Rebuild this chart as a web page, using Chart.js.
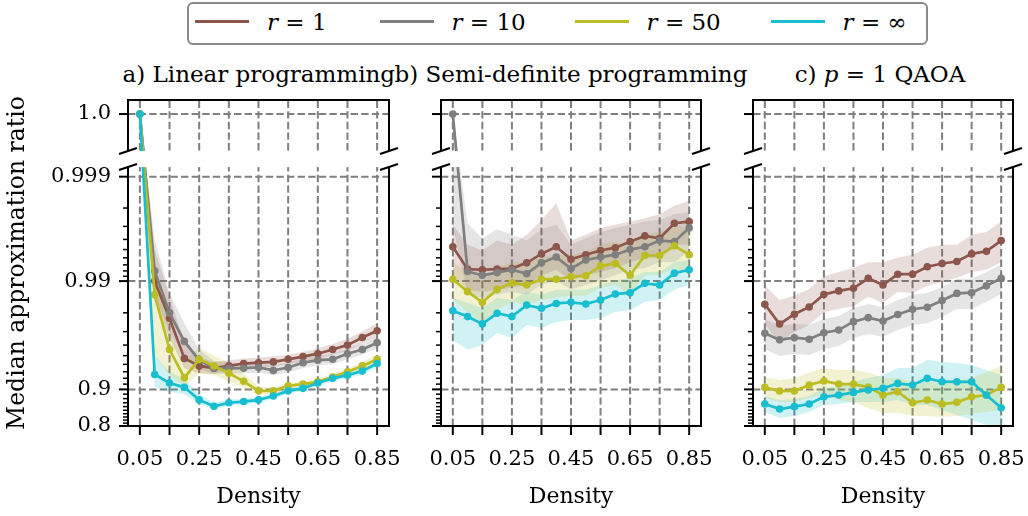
<!DOCTYPE html>
<html><head><meta charset="utf-8">
<script src="https://cdn.jsdelivr.net/npm/chart.js@4.4.1/dist/chart.umd.min.js"></script>
<style>
html,body{margin:0;padding:0;background:#fff;}
body{width:1028px;height:516px;position:relative;overflow:hidden;font-family:'DejaVu Serif','Liberation Serif',serif;color:#000;}
canvas{position:absolute;top:60px;}
.t{position:absolute;width:400px;text-align:center;font-size:23px;line-height:26px;top:61px;white-space:nowrap;}
#lg{position:absolute;left:187px;top:2px;width:741px;height:43px;box-sizing:border-box;border:2px solid #8a8a8a;border-radius:6px;}
.ll{position:absolute;height:3px;top:20px;width:54px;}
.lt{position:absolute;font-size:23px;line-height:26px;top:9px;white-space:nowrap;}
</style></head>
<body>
<div id="lg"></div>
<div class="t" style="left:58.8px">a) Linear programming</div>
<div class="t" style="left:371px">b) Semi-definite programming</div>
<div class="t" style="left:680px">c) <i>p</i> = 1 QAOA</div>
<canvas id="ca" width="410" height="456" style="left:0px"></canvas>
<canvas id="cb" width="310" height="456" style="left:410px"></canvas>
<canvas id="cc" width="308" height="456" style="left:720px"></canvas>
<script>
// ---------------- data ----------------
const DENSITY = [0.05,0.10,0.15,0.20,0.25,0.30,0.35,0.40,0.45,0.50,0.55,0.60,0.65,0.70,0.75,0.80,0.85];
const X_TICKS = [0.05,0.15,0.25,0.35,0.45,0.55,0.65,0.75,0.85];
const X_TICK_LABELS = ['0.05','','0.25','','0.45','','0.65','','0.85'];
const Y_TICKS = [0.8,0.9,0.99,0.999,1.0];
const Y_TICK_LABELS = ['0.8','0.9','0.99','0.999','1.0'];
const Y_MINOR = [0.81,0.82,0.83,0.84,0.85,0.86,0.87,0.88,0.89,0.91,0.92,0.93,0.94,0.95,0.96,0.97,0.98,0.991,0.992,0.993,0.994,0.995,0.996,0.997,0.998];
const SERIES_HTML = ['<i>r</i> = 1','<i>r</i> = 10','<i>r</i> = 50','<i>r</i> = ∞'];
const COLORS = ['#8c564b','#7f7f7f','#bcbd22','#17becf'];

// a) Linear programming
const LP_R1   = [1.0,0.990,0.9775,0.947,0.938,0.935,0.938,0.941,0.942,0.943,0.946,0.949,0.952,0.956,0.960,0.966,0.9706];
const LP_R10  = [1.0,0.992,0.980,0.963,0.945,0.935,0.935,0.935,0.936,0.932,0.936,0.942,0.945,0.946,0.952,0.956,0.962];
const LP_R50  = [1.0,0.9865,0.956,0.921,0.946,0.938,0.928,0.915,0.897,0.897,0.907,0.910,0.914,0.922,0.930,0.938,0.946];
const LP_RINF = [1.0,0.926,0.912,0.904,0.877,0.861,0.870,0.873,0.877,0.886,0.897,0.902,0.912,0.920,0.925,0.931,0.941];
const LP_R1_LO   = [1.0,0.984,0.965,0.935,0.928,0.927,0.931,0.935,0.936,0.937,0.940,0.943,0.946,0.951,0.955,0.961,0.966];
const LP_R1_HI   = [1.0,0.995,0.986,0.962,0.948,0.943,0.945,0.947,0.948,0.949,0.951,0.954,0.957,0.961,0.965,0.970,0.975];
const LP_R10_LO  = [1.0,0.986,0.970,0.950,0.934,0.927,0.927,0.928,0.929,0.925,0.929,0.935,0.939,0.940,0.946,0.951,0.957];
const LP_R10_HI  = [1.0,0.996,0.987,0.975,0.956,0.944,0.942,0.942,0.942,0.939,0.942,0.948,0.950,0.952,0.957,0.961,0.966];
const LP_R50_LO  = [1.0,0.950,0.925,0.905,0.928,0.925,0.915,0.903,0.890,0.891,0.901,0.905,0.909,0.917,0.925,0.933,0.941];
const LP_R50_HI  = [1.0,0.993,0.972,0.945,0.958,0.950,0.942,0.928,0.906,0.903,0.912,0.915,0.919,0.927,0.935,0.943,0.951];
const LP_RINF_LO = [1.0,0.905,0.895,0.890,0.866,0.853,0.862,0.866,0.870,0.880,0.891,0.897,0.907,0.915,0.920,0.926,0.936];
const LP_RINF_HI = [1.0,0.950,0.930,0.918,0.890,0.870,0.878,0.880,0.884,0.892,0.903,0.908,0.917,0.925,0.930,0.936,0.946];

// b) Semi-definite programming
const SDP_R1   = [0.9953,0.9923,0.9922,0.9923,0.9924,0.9933,0.9945,0.9953,0.9938,0.9944,0.9949,0.9952,0.9958,0.9963,0.9961,0.9972,0.9973];
const SDP_R10  = [1.0,0.9919,0.9912,0.9917,0.9922,0.9915,0.9933,0.9941,0.9924,0.9937,0.9941,0.9944,0.9950,0.9953,0.9959,0.9958,0.9969];
const SDP_R50  = [0.9904,0.9874,0.9841,0.9880,0.9896,0.9891,0.9904,0.9904,0.9909,0.9911,0.9928,0.9932,0.9912,0.9943,0.9943,0.9954,0.9944];
const SDP_RINF = [0.9809,0.9783,0.9746,0.9798,0.9783,0.9831,0.9819,0.9837,0.9841,0.9835,0.9849,0.9867,0.9871,0.9895,0.9891,0.9916,0.9922];
const SDP_R1_LO   = [0.9912,0.9879,0.9873,0.9879,0.9884,0.9891,0.9912,0.9922,0.9902,0.9912,0.9918,0.9925,0.9934,0.9940,0.9940,0.9955,0.9955];
const SDP_R1_HI   = [0.9971,0.9955,0.9949,0.9959,0.9955,0.9964,0.9974,0.9982,0.9959,0.9964,0.9969,0.9971,0.9973,0.9975,0.9977,0.9981,0.9983];
const SDP_R10_LO  = [0.9970,0.9865,0.9856,0.9865,0.9873,0.9865,0.9891,0.9902,0.9879,0.9891,0.9902,0.9912,0.9922,0.9925,0.9934,0.9934,0.9949];
const SDP_R10_HI  = [1.0,0.9972,0.9961,0.9968,0.9964,0.9959,0.9968,0.9971,0.9955,0.9961,0.9966,0.9969,0.9971,0.9973,0.9974,0.9977,0.9978];
const SDP_R50_LO  = [0.9849,0.9804,0.9756,0.9812,0.9842,0.9831,0.9849,0.9856,0.9862,0.9862,0.9884,0.9891,0.9865,0.9912,0.9912,0.9925,0.9912];
const SDP_R50_HI  = [0.9934,0.9918,0.9902,0.9925,0.9934,0.9934,0.9940,0.9944,0.9944,0.9947,0.9955,0.9958,0.9952,0.9964,0.9966,0.9971,0.9968];
const SDP_RINF_LO = [0.9642,0.9556,0.9600,0.9691,0.9656,0.9740,0.9722,0.9756,0.9766,0.9766,0.9776,0.9804,0.9812,0.9842,0.9849,0.9879,0.9891];
const SDP_RINF_HI = [0.9856,0.9839,0.9820,0.9856,0.9849,0.9873,0.9865,0.9879,0.9879,0.9879,0.9891,0.9902,0.9907,0.9918,0.9918,0.9934,0.9937];

// c) p = 1 QAOA
const QAOA_R1   = [0.9834,0.9745,0.9794,0.9824,0.9866,0.9876,0.9883,0.9906,0.9891,0.9914,0.9914,0.9927,0.9932,0.9935,0.9945,0.9948,0.9959];
const QAOA_R10  = [0.9689,0.9642,0.9658,0.9647,0.9693,0.9710,0.9758,0.9778,0.9761,0.9793,0.9815,0.9823,0.9847,0.9869,0.9871,0.9889,0.9906];
const QAOA_R50  = [0.9039,0.8966,0.8968,0.9083,0.9156,0.9101,0.9101,0.9044,0.8881,0.8953,0.8700,0.8767,0.8668,0.8710,0.8842,0.8881,0.9039];
const QAOA_RINF = [0.8668,0.8535,0.8600,0.8668,0.8842,0.8881,0.8938,0.8987,0.9020,0.9113,0.9083,0.9199,0.9143,0.9140,0.9140,0.8880,0.8570];
const QAOA_R1_LO   = [0.9740,0.9626,0.9698,0.9740,0.9804,0.9816,0.9827,0.9859,0.9839,0.9873,0.9870,0.9889,0.9898,0.9907,0.9918,0.9922,0.9934];
const QAOA_R1_HI   = [0.9890,0.9849,0.9862,0.9881,0.9910,0.9918,0.9925,0.9934,0.9934,0.9940,0.9944,0.9952,0.9955,0.9955,0.9964,0.9966,0.9973];
const QAOA_R10_LO  = [0.9564,0.9497,0.9517,0.9507,0.9564,0.9592,0.9656,0.9684,0.9663,0.9710,0.9740,0.9750,0.9781,0.9816,0.9816,0.9842,0.9867];
const QAOA_R10_HI  = [0.9771,0.9734,0.9745,0.9740,0.9771,0.9786,0.9820,0.9835,0.9823,0.9849,0.9865,0.9870,0.9886,0.9905,0.9905,0.9918,0.9931];
const QAOA_R50_LO  = [0.8813,0.8720,0.8720,0.8813,0.8903,0.8767,0.8720,0.8563,0.8421,0.8421,0.8332,0.8332,0.8302,0.8332,0.8393,0.8450,0.8508];
const QAOA_R50_HI  = [0.9221,0.9172,0.9204,0.9295,0.9352,0.9324,0.9324,0.9295,0.9204,0.9204,0.9137,0.9137,0.9119,0.9172,0.9204,0.9295,0.9379];
const QAOA_RINF_LO = [0.8450,0.8270,0.8332,0.8450,0.8643,0.8668,0.8720,0.8720,0.8720,0.8767,0.8643,0.8643,0.8508,0.8363,0.8205,0.8035,0.8000];
const QAOA_RINF_HI = [0.8859,0.8767,0.8790,0.8859,0.9028,0.9066,0.9137,0.9204,0.9252,0.9352,0.9352,0.9454,0.9430,0.9418,0.9392,0.9324,0.9252];

// ---------------- axis transform (logit with a broken top section) ----------------
const Y_MIN_T = Math.log10(0.8 / 0.2);
const Y_MAX_T = 3.737;
const ONE_T = 3.602;        // where the value 1.0 sits (upper broken section)
const GAP_LO_T = 3.092, GAP_HI_T = 3.246;
const T = v => v >= 1 ? ONE_T : Math.log10(v / (1 - v));

function rgba(hex, a) {
  const n = parseInt(hex.slice(1), 16);
  return `rgba(${(n >> 16) & 255},${(n >> 8) & 255},${n & 255},${a})`;
}

// legend
const LEG_X = [195, 379.5, 574.6, 770.6];
SERIES_HTML.forEach((h, i) => {
  const l = document.createElement('div'); l.className = 'll';
  l.style.left = LEG_X[i] + 'px'; l.style.background = COLORS[i];
  document.body.appendChild(l);
  const t = document.createElement('div'); t.className = 'lt';
  t.style.left = (LEG_X[i] + 72) + 'px'; t.innerHTML = h;
  document.body.appendChild(t);
});

Chart.defaults.font.family = "'DejaVu Serif', 'Liberation Serif', serif";
Chart.defaults.font.size = 22;
Chart.defaults.color = '#000';

const decor = {
  id: 'decor',
  beforeDatasetsDraw(chart) {
    const {ctx, chartArea: a, scales: {x, y}} = chart;
    ctx.save();
    ctx.beginPath(); ctx.rect(a.left, a.top, a.right - a.left, a.bottom - a.top); ctx.clip();
    ctx.strokeStyle = '#7f7f7f'; ctx.lineWidth = 2; ctx.setLineDash([7.4, 3.2]);
    X_TICKS.forEach(v => { const p = x.getPixelForValue(v); ctx.beginPath(); ctx.moveTo(p, a.bottom); ctx.lineTo(p, a.top); ctx.stroke(); });
    Y_TICKS.forEach(v => { const p = y.getPixelForValue(T(v)); ctx.beginPath(); ctx.moveTo(a.left, p); ctx.lineTo(a.right, p); ctx.stroke(); });
    ctx.restore();
  },
  afterDatasetsDraw(chart) {
    const {ctx, chartArea: a, scales: {x, y}} = chart;
    const gTop = y.getPixelForValue(GAP_HI_T), gBot = y.getPixelForValue(GAP_LO_T);
    ctx.save();
    ctx.fillStyle = '#fff';
    ctx.fillRect(a.left - 4, gTop, a.right - a.left + 8, gBot - gTop);
    ctx.strokeStyle = '#000'; ctx.setLineDash([]);
    const seg = (x1, y1, x2, y2, w) => { ctx.lineWidth = w; ctx.beginPath(); ctx.moveTo(x1, y1); ctx.lineTo(x2, y2); ctx.stroke(); };
    seg(a.left - 1, a.top, a.right + 1, a.top, 2);
    seg(a.left - 1, a.bottom, a.right + 1, a.bottom, 2);
    [a.left, a.right].forEach(px => { seg(px, a.top, px, gTop, 2); seg(px, gBot, px, a.bottom, 2); });
    X_TICKS.forEach(v => { const p = x.getPixelForValue(v); seg(p, a.bottom, p, a.bottom + 9, 2); });
    Y_TICKS.forEach(v => { const p = y.getPixelForValue(T(v)); seg(a.left - 9, p, a.left, p, 2); });
    Y_MINOR.forEach(v => { const p = y.getPixelForValue(T(v)); seg(a.left - 5, p, a.left, p, 1.5); });
    [a.left, a.right].forEach(cx => [gTop, gBot].forEach(cy => seg(cx - 9, cy + 3, cx + 9, cy - 3, 2)));
    ctx.restore();
  }
};

function makeChart(id, med, lo, hi, yWidth, padRight, showY) {
  const datasets = [];
  for (let i = 0; i < 4; i++) {
    datasets.push({data: DENSITY.map((d, j) => ({x: d, y: T(hi[i][j])})), borderWidth: 0, borderColor: 'transparent',
      pointRadius: 0, fill: '+1', backgroundColor: rgba(COLORS[i], 0.2), order: 20 + i});
    datasets.push({data: DENSITY.map((d, j) => ({x: d, y: T(lo[i][j])})), borderWidth: 0, borderColor: 'transparent',
      pointRadius: 0, fill: false, order: 20 + i});
  }
  for (let i = 0; i < 4; i++) {
    datasets.push({data: DENSITY.map((d, j) => ({x: d, y: T(med[i][j])})), borderColor: COLORS[i], backgroundColor: COLORS[i],
      pointBackgroundColor: COLORS[i], borderWidth: 2.7, pointRadius: 3.8, pointBorderWidth: 0, fill: false, tension: 0, order: 4 - i});
  }
  return new Chart(document.getElementById(id), {
    type: 'line',
    data: {datasets},
    plugins: [decor],
    options: {
      responsive: false, animation: false, events: [],
      layout: {padding: {left: 0, top: 40, right: padRight, bottom: 0}},
      plugins: {legend: {display: false}, tooltip: {enabled: false}},
      scales: {
        x: {type: 'linear', min: 0.01, max: 0.89,
          grid: {display: false, drawTicks: false}, border: {display: false},
          afterBuildTicks: s => { s.ticks = X_TICKS.map(v => ({value: v})); },
          afterFit: s => { s.height = 90; s.paddingLeft = 0; s.paddingRight = 0; },
          ticks: {autoSkip: false, maxRotation: 0, minRotation: 0, padding: 21, font: {size: 21}, callback: (v, i) => X_TICK_LABELS[i]},
          title: {display: true, text: 'Density', padding: {top: 0, bottom: 6}}},
        y: {type: 'linear', min: Y_MIN_T, max: Y_MAX_T,
          grid: {display: false, drawTicks: false}, border: {display: false},
          afterBuildTicks: s => { s.ticks = Y_TICKS.map(v => ({value: T(v)})); },
          afterFit: s => { s.width = yWidth; s.paddingTop = 0; s.paddingBottom = 0; },
          ticks: {display: showY, autoSkip: false, padding: 17, font: {size: 21}, callback: (v, i) => Y_TICK_LABELS[i]},
          title: {display: showY, text: 'Median approximation ratio', font: {size: 23.5}, padding: {top: 4, bottom: 0}}}
      }
    }
  });
}

makeChart('ca', [LP_R1, LP_R10, LP_R50, LP_RINF], [LP_R1_LO, LP_R10_LO, LP_R50_LO, LP_RINF_LO], [LP_R1_HI, LP_R10_HI, LP_R50_HI, LP_RINF_HI], 128, 21, true);
makeChart('cb', [SDP_R1, SDP_R10, SDP_R50, SDP_RINF], [SDP_R1_LO, SDP_R10_LO, SDP_R50_LO, SDP_RINF_LO], [SDP_R1_HI, SDP_R10_HI, SDP_R50_HI, SDP_RINF_HI], 31, 19, false);
makeChart('cc', [QAOA_R1, QAOA_R10, QAOA_R50, QAOA_RINF], [QAOA_R1_LO, QAOA_R10_LO, QAOA_R50_LO, QAOA_RINF_LO], [QAOA_R1_HI, QAOA_R10_HI, QAOA_R50_HI, QAOA_RINF_HI], 33, 15, false);
</script>
</body></html>
